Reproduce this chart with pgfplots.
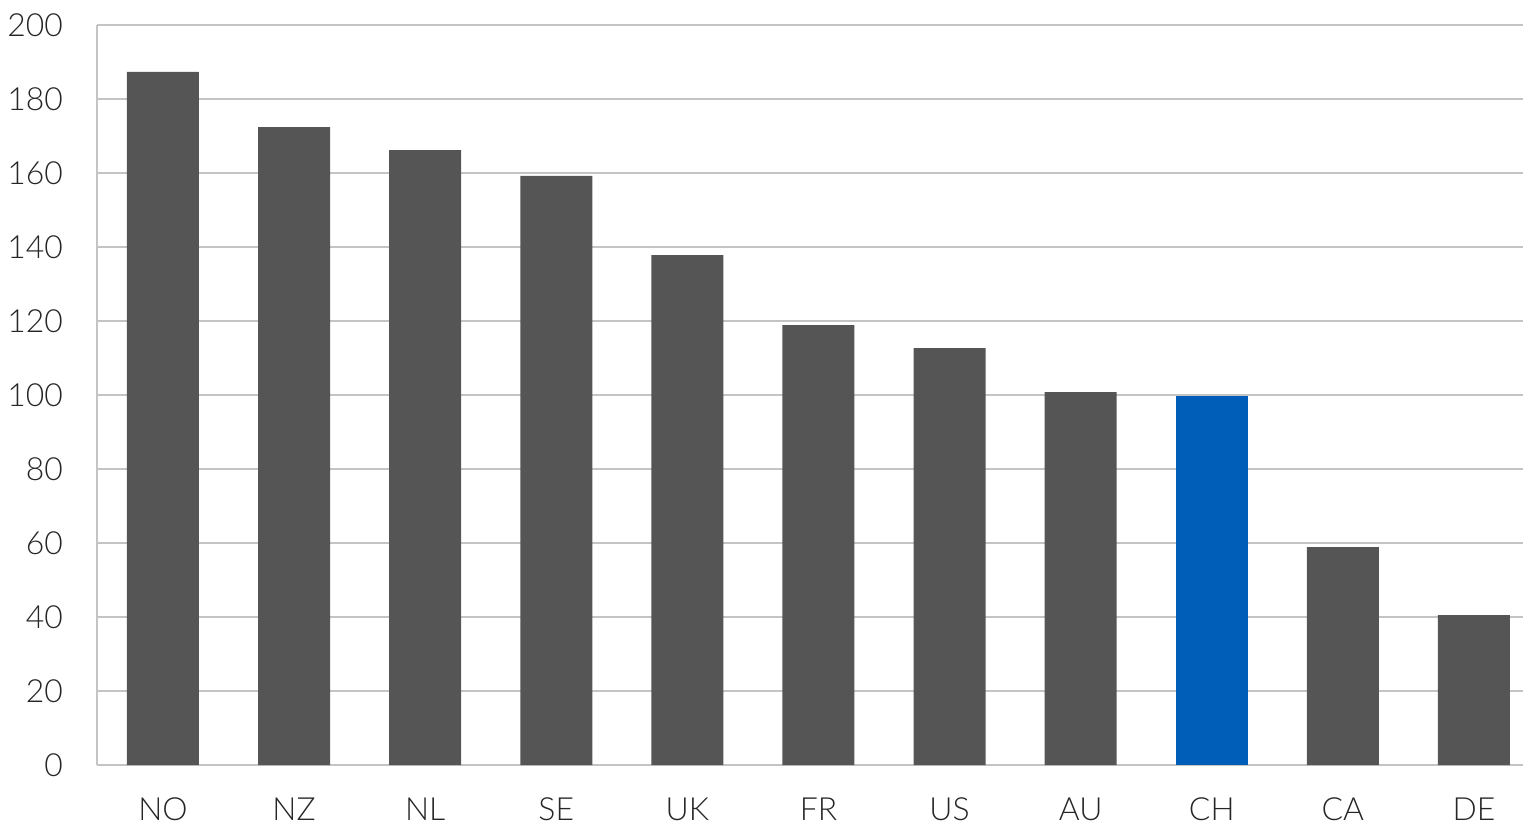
\documentclass[border=0pt]{standalone}
\usepackage{fontspec}
\setmainfont{Lato}[UprightFont={* Light}]
\usepackage{pgfplots}
\pgfplotsset{compat=1.18}
\definecolor{bargray}{HTML}{555555}
\definecolor{chblue}{HTML}{005EB8}
\definecolor{gridgray}{HTML}{C4C4C4}
\begin{document}
\fontsize{16}{19}\selectfont
\begin{tikzpicture}
\begin{axis}[
  scale only axis,
  width=713bp, height=370bp,
  xmin=-0.503, xmax=10.374,
  ymin=0, ymax=200,
  ytick={0,20,...,200},
  xtick={0,...,10},
  xticklabels={NO,NZ,NL,SE,UK,FR,US,AU,CH,CA,DE},
  axis x line=bottom, axis y line=left,
  axis line style={gridgray, line width=0.8pt, -},
  ymajorgrids, major grid style={gridgray, line width=0.8pt},
  major tick length=0pt,
  /pgf/number format/assume math mode=true,
  tick label style={font=\fontsize{16}{19}\selectfont, text=black!85},
  yticklabel style={xshift=-11.5bp},
  xticklabel style={yshift=-11bp},
  ybar, bar width=36bp,
  clip=false,
]
\addplot[fill=bargray, draw=none, bar shift=0pt] coordinates {
(0,187.3) (1,172.4) (2,166.2) (3,159.2) (4,137.8) (5,118.9) (6,112.7) (7,100.8) (9,58.9) (10,40.5)};
\addplot[fill=chblue, draw=none, bar shift=0pt] coordinates {(8,99.7)};
\end{axis}
\pgfresetboundingbox
\path ([xshift=-48.5bp, yshift=-29.5bp]current axis.south west) rectangle ([yshift=12.5bp]current axis.north east);
\end{tikzpicture}
\end{document}
